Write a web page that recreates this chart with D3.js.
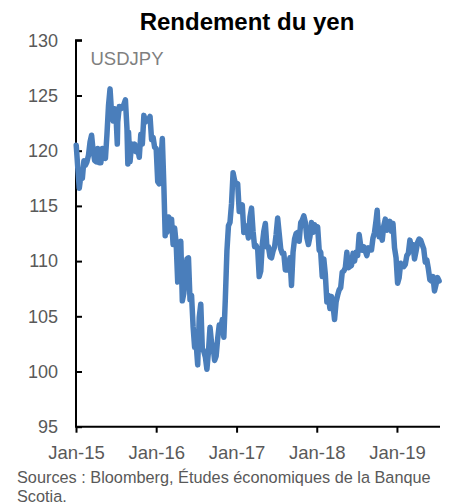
<!DOCTYPE html>
<html>
<head>
<meta charset="utf-8">
<script src="https://cdn.jsdelivr.net/npm/d3@7"></script>
<style>
  html, body { margin: 0; padding: 0; background: #fff; }
  svg { display: block; font-family: "Liberation Sans", Arial, sans-serif; }
</style>
</head>
<body>
<svg id="chart" width="455" height="504"></svg>
<script>
// ---- Data (weekly USDJPY) ----
const dates = [
"2015-01-02","2015-01-09","2015-01-16","2015-01-23","2015-01-30","2015-02-06","2015-02-13","2015-02-20","2015-02-27",
"2015-03-06","2015-03-13","2015-03-20","2015-03-27","2015-04-03","2015-04-10","2015-04-17","2015-04-24",
"2015-05-01","2015-05-08","2015-05-15","2015-05-22","2015-05-29","2015-06-05","2015-06-12","2015-06-19","2015-06-26",
"2015-07-03","2015-07-08","2015-07-10","2015-07-17","2015-07-24","2015-07-31","2015-08-07","2015-08-14","2015-08-21","2015-08-25","2015-08-28",
"2015-09-04","2015-09-11","2015-09-18","2015-09-25","2015-10-02","2015-10-09","2015-10-16","2015-10-23","2015-10-30",
"2015-11-06","2015-11-13","2015-11-20","2015-11-27","2015-12-04","2015-12-11","2015-12-18","2015-12-25",
"2016-01-01","2016-01-08","2016-01-15","2016-01-22","2016-01-29","2016-02-05","2016-02-11","2016-02-12","2016-02-19","2016-02-26",
"2016-03-04","2016-03-11","2016-03-18","2016-03-25","2016-04-01","2016-04-08","2016-04-15","2016-04-22","2016-04-29",
"2016-05-06","2016-05-13","2016-05-20","2016-05-27","2016-06-03","2016-06-10","2016-06-17","2016-06-24",
"2016-07-01","2016-07-08","2016-07-15","2016-07-22","2016-07-29","2016-08-05","2016-08-12","2016-08-19","2016-08-26",
"2016-09-02","2016-09-09","2016-09-16","2016-09-23","2016-09-30","2016-10-07","2016-10-14","2016-10-21","2016-10-28",
"2016-11-04","2016-11-11","2016-11-18","2016-11-25","2016-12-02","2016-12-09","2016-12-16","2016-12-23","2016-12-30",
"2017-01-06","2017-01-13","2017-01-20","2017-01-27","2017-02-03","2017-02-10","2017-02-17","2017-02-24",
"2017-03-03","2017-03-10","2017-03-17","2017-03-24","2017-03-31","2017-04-07","2017-04-14","2017-04-21","2017-04-28",
"2017-05-05","2017-05-12","2017-05-19","2017-05-26","2017-06-02","2017-06-09","2017-06-16","2017-06-23","2017-06-30",
"2017-07-07","2017-07-14","2017-07-21","2017-07-28","2017-08-04","2017-08-11","2017-08-18","2017-08-25",
"2017-09-01","2017-09-08","2017-09-15","2017-09-22","2017-09-29","2017-10-06","2017-10-13","2017-10-20","2017-10-27",
"2017-11-03","2017-11-10","2017-11-17","2017-11-24","2017-12-01","2017-12-08","2017-12-15","2017-12-22","2017-12-29",
"2018-01-05","2018-01-12","2018-01-19","2018-01-26","2018-02-02","2018-02-09","2018-02-16","2018-02-23",
"2018-03-02","2018-03-09","2018-03-16","2018-03-23","2018-03-30","2018-04-06","2018-04-13","2018-04-20","2018-04-27",
"2018-05-04","2018-05-11","2018-05-18","2018-05-25","2018-06-01","2018-06-08","2018-06-15","2018-06-22","2018-06-29",
"2018-07-06","2018-07-13","2018-07-20","2018-07-27","2018-08-03","2018-08-10","2018-08-17","2018-08-24","2018-08-31",
"2018-09-07","2018-09-14","2018-09-21","2018-09-28","2018-10-03","2018-10-05","2018-10-12","2018-10-19","2018-10-26",
"2018-11-02","2018-11-09","2018-11-16","2018-11-23","2018-11-30","2018-12-07","2018-12-14","2018-12-21","2018-12-28",
"2019-01-04","2019-01-11","2019-01-18","2019-01-25","2019-02-01","2019-02-08","2019-02-15","2019-02-22",
"2019-03-01","2019-03-08","2019-03-15","2019-03-22","2019-03-29","2019-04-05","2019-04-12","2019-04-19","2019-04-26",
"2019-05-03","2019-05-10","2019-05-17","2019-05-24","2019-05-31","2019-06-07","2019-06-14","2019-06-21","2019-06-28",
"2019-07-05","2019-07-12"
];
const usdjpy = [
120.5,118.5,116.6,117.7,117.5,119.1,118.7,119.0,119.6,
120.8,121.4,120.0,119.1,119.0,120.2,118.9,118.9,
120.2,119.7,119.3,121.5,124.1,125.6,123.4,122.7,123.8,
122.8,120.6,122.6,124.0,123.8,123.9,124.2,124.6,122.0,118.8,121.7,
119.0,120.6,120.0,120.6,119.9,120.2,119.4,121.5,120.6,
123.2,122.6,122.8,122.8,123.1,121.0,121.2,120.3,
120.2,117.2,117.0,118.8,121.1,116.8,112.3,113.2,112.6,114.0,
113.8,113.8,111.5,113.0,111.6,108.1,108.8,111.8,106.4,
107.1,108.6,110.2,110.3,106.5,106.9,104.1,102.2,
102.5,100.6,104.9,106.1,102.1,101.8,101.3,100.2,101.8,
104.0,102.6,102.3,101.0,101.4,103.0,104.2,103.8,104.7,
103.1,106.7,110.9,113.2,113.5,115.2,118.0,117.3,116.9,
117.0,114.5,114.6,115.1,112.6,113.2,112.9,112.1,
114.0,114.8,112.7,111.3,111.4,111.1,108.6,109.1,111.5,
112.7,113.4,111.3,111.3,110.4,110.3,110.9,111.3,112.4,
113.9,112.5,111.1,110.7,110.7,109.2,109.2,109.4,
110.3,107.8,110.8,112.0,112.5,112.6,111.8,113.5,113.7,
114.1,113.5,112.1,111.5,112.2,113.5,112.6,113.3,112.7,
113.1,111.0,110.8,108.6,110.2,108.8,106.3,106.9,
105.7,106.8,106.0,104.7,106.3,106.9,107.4,107.6,109.0,
109.1,109.4,110.8,109.4,109.5,109.6,110.7,110.0,110.8,
110.5,112.4,111.4,111.0,111.3,110.9,110.5,111.2,111.0,
111.0,112.1,112.6,113.7,114.6,113.7,112.2,112.5,111.9,
113.2,113.8,112.8,112.9,113.6,112.7,113.4,111.2,110.3,
108.0,108.5,109.8,109.6,109.5,109.7,110.5,110.7,
111.9,111.2,111.5,110.2,110.9,111.7,112.0,111.9,111.5,
111.1,109.9,110.1,109.3,108.3,108.2,108.6,107.3,107.9,
108.5,108.2
];
const yTicks = [95, 100, 105, 110, 115, 120, 125, 130];
const xTicks = ["2015-01-01","2016-01-01","2017-01-01","2018-01-01","2019-01-01"];
const xTickLabels = ["Jan-15","Jan-16","Jan-17","Jan-18","Jan-19"];
const titleText = "Rendement du yen";
const seriesLabel = "USDJPY";
const sourceLines = ["Sources : Bloomberg, Études économiques de la Banque", "Scotia."];

// ---- Build ----
const parse = d3.timeParse("%Y-%m-%d");
const data = dates.map((d, i) => ({ date: parse(d), value: usdjpy[i] }));

const svg = d3.select("#chart");
const x = d3.scaleTime()
  .domain([parse("2015-01-01"), parse("2019-07-16")])
  .range([76, 440]);
const y = d3.scaleLinear().domain([95, 130]).range([426.7, 40.3]);

// Title
svg.append("text")
  .attr("x", 247).attr("y", 30)
  .attr("text-anchor", "middle")
  .attr("font-size", "24px").attr("font-weight", "bold")
  .attr("fill", "#000")
  .text(titleText);

// Y axis
const yAxis = d3.axisRight(y).tickValues(yTicks).tickSize(6).tickFormat(d3.format("d"));
const gy = svg.append("g").attr("transform", "translate(76,0)").call(yAxis);
gy.select(".domain").attr("stroke", "#000").attr("stroke-width", 2)
  .attr("d", `M6,${y(130)}H0V${y(95)}`);
gy.selectAll(".tick line").attr("stroke", "#000").attr("stroke-width", 2);
gy.selectAll(".tick text")
  .attr("x", -18).attr("text-anchor", "end")
  .attr("font-size", "18px").attr("fill", "#595959")
  .attr("font-family", "'Liberation Sans', Arial, sans-serif");

// X axis
const xAxis = d3.axisBottom(x)
  .tickValues(xTicks.map(parse))
  .tickSize(6)
  .tickFormat((d, i) => xTickLabels[i]);
const gx = svg.append("g").attr("transform", `translate(0,${y(95)})`).call(xAxis);
gx.select(".domain").attr("stroke", "#000").attr("stroke-width", 2)
  .attr("d", `M${x.range()[0] - 1},0H${x.range()[1]}`);
gx.selectAll(".tick line").attr("stroke", "#000").attr("stroke-width", 2);
gx.selectAll(".tick text")
  .attr("y", 19).attr("dy", "0.71em")
  .attr("font-size", "18.5px").attr("fill", "#595959")
  .attr("font-family", "'Liberation Sans', Arial, sans-serif");

// Line
const line = d3.line().x(d => x(d.date)).y(d => y(d.value));
svg.append("path")
  .datum(data)
  .attr("fill", "none")
  .attr("stroke", "#4a7ebb")
  .attr("stroke-width", 5.5)
  .attr("stroke-linejoin", "round")
  .attr("stroke-linecap", "round")
  .attr("d", line);

// Series label
svg.append("text")
  .attr("x", 90.5).attr("y", 65)
  .attr("font-size", "18.5px").attr("fill", "#7f7f7f")
  .text(seriesLabel);

// Source
svg.selectAll("text.src").data(sourceLines).enter().append("text")
  .attr("class", "src")
  .attr("x", 17).attr("y", (d, i) => 483 + i * 18.5)
  .attr("font-size", "16.3px").attr("fill", "#595959")
  .text(d => d);
</script>
</body>
</html>
